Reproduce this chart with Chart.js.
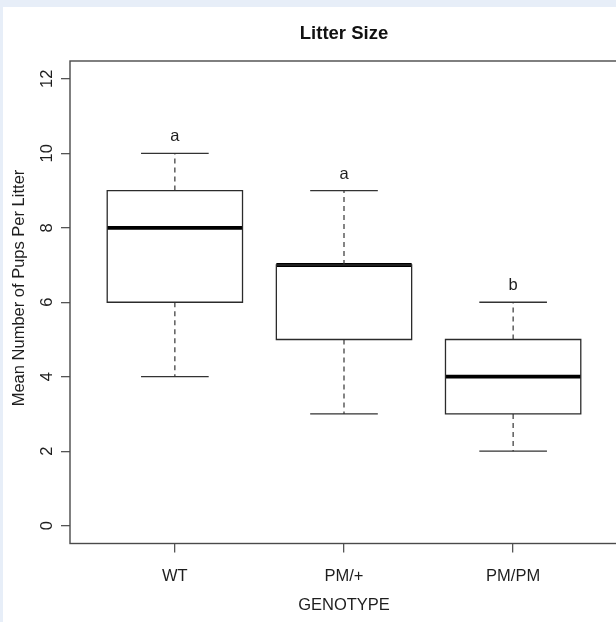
<!DOCTYPE html>
<html><head><meta charset="utf-8">
<script src="https://cdn.jsdelivr.net/npm/chart.js@4.4.1/dist/chart.umd.min.js"></script>
<style>
html,body{margin:0;padding:0;overflow:hidden;background:#fff;width:616px;height:622px}
canvas{display:block}
</style>
</head><body>
<canvas id="c" width="624" height="622"></canvas>
<script>
// ---- data ----
const categories   = ['WT', 'PM/+', 'PM/PM'];
const whiskerLow   = [4, 3, 2];
const boxLow       = [6, 5, 3];
const medians      = [8, 7, 4];
const boxHigh      = [9, 7, 5];
const whiskerHigh  = [10, 9, 6];
const sigLetters   = ['a', 'a', 'b'];
const yTicks       = [0, 2, 4, 6, 8, 10, 12];
const chartTitle   = 'Litter Size';
const xTitle       = 'GENOTYPE';
const yTitle       = 'Mean Number of Pups Per Litter';

// ---- styling constants ----
const FONT = '"Liberation Sans", Arial, Helvetica, sans-serif';
const HALF_BOX = 0.4, HALF_CAP = 0.2, LETTER_OFFSET = 0.32;

function build(fn) {
  const pts = [];
  categories.forEach((c, i) => {
    pts.push(...fn(i + 1, i));
    pts.push({x: i + 1, y: null});
  });
  return pts;
}

const boxData = build((x, i) => [
  {x: x - HALF_BOX, y: boxLow[i]}, {x: x + HALF_BOX, y: boxLow[i]},
  {x: x + HALF_BOX, y: boxHigh[i]}, {x: x - HALF_BOX, y: boxHigh[i]},
  {x: x - HALF_BOX, y: boxLow[i]}
]);
const medianData = build((x, i) => [
  {x: x - HALF_BOX, y: medians[i]}, {x: x + HALF_BOX, y: medians[i]}
]);
const upperWhisker = build((x, i) => [{x: x, y: boxHigh[i]}, {x: x, y: whiskerHigh[i]}]);
const lowerWhisker = build((x, i) => [{x: x, y: boxLow[i]}, {x: x, y: whiskerLow[i]}]);
const capData = build((x, i) => [
  {x: x - HALF_CAP, y: whiskerHigh[i]}, {x: x + HALF_CAP, y: whiskerHigh[i]},
  {x: x, y: null},
  {x: x - HALF_CAP, y: whiskerLow[i]}, {x: x + HALF_CAP, y: whiskerLow[i]}
]);

const lineDs = (label, data, color, width, extra) => Object.assign({
  label, data, showLine: true, spanGaps: false, borderColor: color, borderWidth: width,
  pointRadius: 0, pointHoverRadius: 0, fill: false, tension: 0,
  borderJoinStyle: 'miter', borderCapStyle: 'butt'
}, extra || {});

const decor = {
  id: 'decor',
  beforeDraw(chart) {
    const ctx = chart.ctx;
    ctx.save();
    ctx.fillStyle = '#e7eef8';
    ctx.fillRect(0, 0, chart.width, chart.height);
    ctx.fillStyle = '#ffffff';
    ctx.fillRect(3, 7, chart.width, chart.height);
    ctx.restore();
  },
  afterDraw(chart) {
    const ctx = chart.ctx, a = chart.chartArea;
    const xs = chart.scales.x, ys = chart.scales.y;
    ctx.save();
    // plot frame
    ctx.strokeStyle = '#4a4a4a';
    ctx.lineWidth = 1.4;
    ctx.strokeRect(a.left, a.top, a.right - a.left, a.bottom - a.top);
    // y tick labels (rotated, R style)
    ctx.fillStyle = '#1e1e1e';
    ctx.font = '16.5px ' + FONT;
    ctx.textAlign = 'center';
    ctx.textBaseline = 'middle';
    yTicks.forEach(v => {
      ctx.save();
      ctx.translate(ys.right - 23, ys.getPixelForValue(v));
      ctx.rotate(-Math.PI / 2);
      ctx.fillText(String(v), 0, 0);
      ctx.restore();
    });
    // y axis title
    ctx.save();
    ctx.translate(19, 288);
    ctx.rotate(-Math.PI / 2);
    ctx.fillText(yTitle, 0, 0);
    ctx.restore();
    // significance letters
    ctx.textBaseline = 'alphabetic';
    sigLetters.forEach((t, i) => {
      ctx.fillText(t, xs.getPixelForValue(i + 1), ys.getPixelForValue(whiskerHigh[i] + LETTER_OFFSET));
    });
    // title
    ctx.font = 'bold 18.5px ' + FONT;
    ctx.fillStyle = '#111';
    ctx.textBaseline = 'middle';
    ctx.fillText(chartTitle, (a.left + a.right) / 2, 34);
    ctx.restore();
  }
};

new Chart(document.getElementById('c'), {
  type: 'scatter',
  data: {
    datasets: [
      lineDs('box', boxData, '#2b2b2b', 1.3, {borderCapStyle: 'square'}),
      lineDs('upper whisker', upperWhisker, '#333', 1.2, {borderDash: [5, 4]}),
      lineDs('lower whisker', lowerWhisker, '#333', 1.2, {borderDash: [5, 4]}),
      lineDs('caps', capData, '#333', 1.3),
      lineDs('median', medianData, '#000', 3.8)
    ]
  },
  options: {
    responsive: false,
    animation: false,
    events: [],
    layout: {padding: {top: 61, left: 0, right: 6, bottom: 0}},
    plugins: {legend: {display: false}, tooltip: {enabled: false}, title: {display: false}},
    scales: {
      x: {
        type: 'linear', min: 0.38, max: 3.62,
        afterBuildTicks: s => { s.ticks = categories.map((c, i) => ({value: i + 1})); },
        afterFit: s => { s.height = 78.5; },
        border: {display: false},
        grid: {display: true, drawOnChartArea: false, drawTicks: true, tickLength: 9, color: '#555', lineWidth: 1.3},
        ticks: {
          autoSkip: false, maxRotation: 0, minRotation: 0, padding: 14, color: '#1e1e1e',
          font: {family: FONT, size: 16.5},
          callback: v => categories[Math.round(v) - 1]
        },
        title: {display: true, text: xTitle, color: '#1e1e1e', font: {family: FONT, size: 16.5}, padding: {top: 9.4, bottom: 7}}
      },
      y: {
        type: 'linear', min: -0.48, max: 12.48,
        afterBuildTicks: s => { s.ticks = yTicks.map(v => ({value: v})); },
        afterFit: s => { s.width = 70; },
        border: {display: false},
        grid: {display: true, drawOnChartArea: false, drawTicks: true, tickLength: 9, color: '#555', lineWidth: 1.3},
        ticks: {color: 'rgba(0,0,0,0)', padding: 4, font: {family: FONT, size: 16.5}},
        title: {display: false}
      }
    }
  },
  plugins: [decor]
});
</script>
</body></html>
